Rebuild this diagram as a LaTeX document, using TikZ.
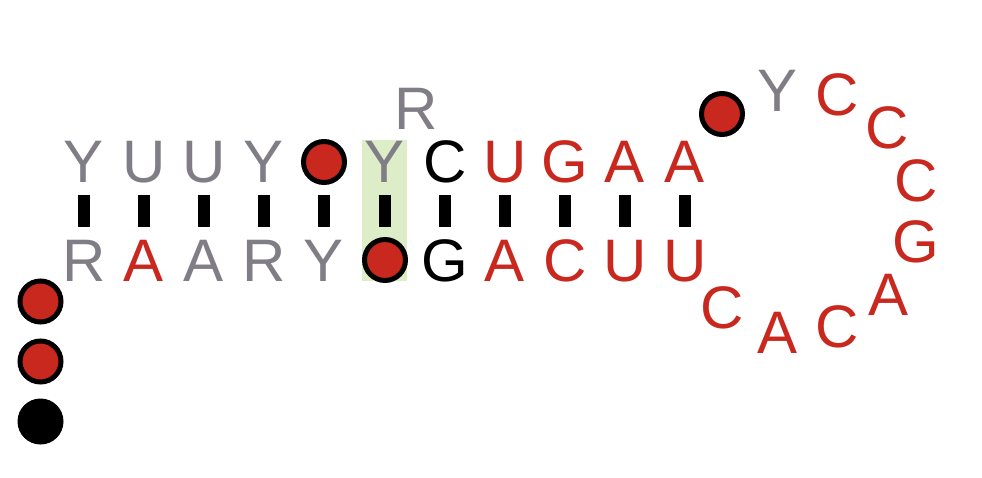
\documentclass[tikz,border=0pt]{standalone}
\usepackage{fontspec}
\setmainfont{Liberation Sans}
\definecolor{gr}{HTML}{807D87}
\definecolor{rd}{HTML}{C8281E}
\definecolor{hl}{HTML}{DCEDC8}
\begin{document}
\begin{tikzpicture}[x=1pt,y=-1pt,
  nt/.style={inner sep=0pt, anchor=base, text height=43pt, text depth=0pt, font=\fontsize{60}{60}\selectfont},
  g/.style={nt, text=gr}, r/.style={nt, text=rd}, k/.style={nt, text=black},
  dotr/.style={circle, fill=rd, draw=black, line width=5pt, minimum size=41pt, inner sep=0pt},
  dotk/.style={circle, fill=black, minimum size=46pt, inner sep=0pt},
  pairbar/.style={line width=12pt, black}]
\useasboundingbox (0,0) rectangle (982,478);
\fill[hl] (362,140) rectangle (407,281);
% top strand
\node[g] (t1) at (84,183) {Y};
\node[g] (t2) at (144,183) {U};
\node[g] (t3) at (204,183) {U};
\node[g] (t4) at (264,183) {Y};
\node[dotr] (t5) at (324,162) {};
\node[g] (t6) at (385,183) {Y};
\node[k] (t7) at (445,183) {C};
\node[r] (t8) at (505,183) {U};
\node[r] (t9) at (565,183) {G};
\node[r] (t10) at (625,183) {A};
\node[r] (t11) at (685,183) {A};
\node[g] (rr) at (416,130) {R};
% bottom strand
\node[g] (b1) at (84,281) {R};
\node[r] (b2) at (144,281) {A};
\node[g] (b3) at (204,281) {A};
\node[g] (b4) at (264,281) {R};
\node[g] (b5) at (324,281) {Y};
\node[dotr] (b6) at (385,260) {};
\node[k] (b7) at (445,281) {G};
\node[r] (b8) at (505,281) {A};
\node[r] (b9) at (565,281) {C};
\node[r] (b10) at (625,281) {U};
\node[r] (b11) at (685,281) {U};
% pair bars
\foreach \x in {84,144,204,264,324,385,445,505,565,625,685}
  \draw[pairbar] (\x,195) -- (\x,227);
% loop
\node[dotr] (l0) at (722,114) {};
\node[g] (l1) at (777,112) {Y};
\node[r] (l2) at (837,116) {C};
\node[r] (l3) at (887,149) {C};
\node[r] (l4) at (916,202) {C};
\node[r] (l5) at (916,262) {G};
\node[r] (l6) at (888,315) {A};
\node[r] (l7) at (837,347) {C};
\node[r] (l8) at (777,353) {A};
\node[r] (l9) at (722,328) {C};
% 5' tail
\node[dotr] (d1) at (40.5,301.5) {};
\node[dotr] (d2) at (40.5,361.5) {};
\node[dotk] (d3) at (40.5,421.5) {};
\end{tikzpicture}
\end{document}
